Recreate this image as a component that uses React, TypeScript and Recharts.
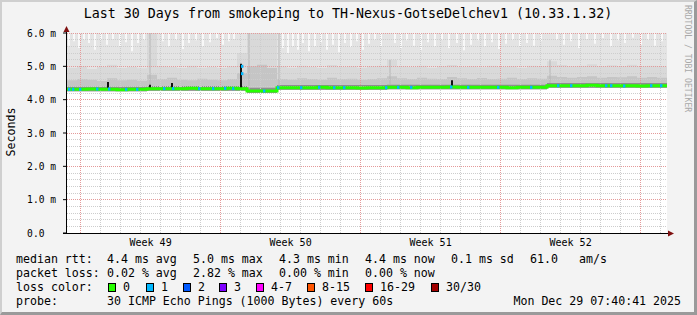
import React from 'react';
import { ComposedChart, Area, Line, XAxis, YAxis, ReferenceLine, ReferenceArea } from 'recharts';

const MONO = "'DejaVu Sans Mono', monospace";

// time in days since the start of the 30 day window
const days = [
  0, 0.5, 1, 1.5, 2, 2.5, 3, 3.5, 4, 4.5, 5, 5.5, 6, 6.5, 7, 7.5, 8, 8.5, 9, 9.5,
  10, 10.5, 11, 11.5, 12, 12.5, 13, 13.5, 14, 14.5, 15, 15.5, 16, 16.5, 17, 17.5, 18, 18.5, 19, 19.5,
  20, 20.5, 21, 21.5, 22, 22.5, 23, 23.5, 24, 24.5, 25, 25.5, 26, 26.5, 27, 27.5, 28, 28.5, 29, 29.5, 30,
];

// median rtt in ms
const median = [
  4.31, 4.31, 4.32, 4.31, 4.31, 4.30, 4.31, 4.31,
  4.33, 4.33, 4.33, 4.33, 4.34, 4.33, 4.33, 4.33, 4.34, 4.33,
  4.26, 4.26, 4.26,
  4.36, 4.36, 4.36, 4.36, 4.37, 4.36, 4.36, 4.36, 4.35, 4.36, 4.36,
  4.37, 4.37, 4.36, 4.37, 4.37, 4.37, 4.38, 4.37, 4.37, 4.37, 4.37, 4.37, 4.36, 4.37, 4.37, 4.37,
  4.42, 4.42, 4.42, 4.42, 4.43, 4.42, 4.42, 4.42, 4.42, 4.41, 4.42, 4.42, 4.42,
];

// smoke bands (lowest ping and several upper percentiles)
const smokeLow = [
  4.25, 4.25, 4.25, 4.25, 4.25, 4.25, 4.25, 4.25,
  4.27, 4.27, 4.27, 4.27, 4.27, 4.27, 4.27, 4.27, 4.27, 4.27,
  4.20, 4.20, 4.20,
  4.30, 4.30, 4.30, 4.30, 4.30, 4.30, 4.30, 4.30, 4.30, 4.30, 4.30,
  4.31, 4.31, 4.31, 4.31, 4.31, 4.31, 4.31, 4.31, 4.31, 4.31, 4.31, 4.31, 4.31, 4.31, 4.31, 4.31,
  4.36, 4.36, 4.36, 4.36, 4.36, 4.36, 4.36, 4.36, 4.36, 4.36, 4.36, 4.36, 4.36,
];
const smokeCore = [
  4.39, 4.39, 4.39, 4.39, 4.39, 4.39, 4.39, 4.39,
  4.41, 4.41, 4.41, 4.41, 4.41, 4.41, 4.41, 4.41, 4.41, 4.41,
  4.36, 4.36, 4.36,
  4.44, 4.44, 4.44, 4.44, 4.44, 4.44, 4.44, 4.44, 4.44, 4.44, 4.44,
  4.45, 4.45, 4.45, 4.45, 4.45, 4.45, 4.45, 4.45, 4.45, 4.45, 4.45, 4.45, 4.45, 4.45, 4.45, 4.45,
  4.50, 4.50, 4.50, 4.50, 4.50, 4.50, 4.50, 4.50, 4.50, 4.50, 4.50, 4.50, 4.50,
];
const smokeInner = [
  4.58, 4.62, 4.60, 4.56, 4.64, 4.58, 4.60, 4.57,
  4.75, 4.62, 4.66, 4.60, 4.58, 4.63, 4.60, 4.58, 4.62, 4.80,
  5.00, 5.05, 4.95,
  4.62, 4.60, 4.64, 4.62, 4.60, 4.66, 4.62, 4.63, 4.60, 4.62, 4.64,
  4.70, 4.64, 4.62, 4.66, 4.63, 4.62, 4.68, 4.64, 4.62, 4.65, 4.62, 4.63, 4.66, 4.62, 4.64, 4.63,
  4.72, 4.68, 4.66, 4.68, 4.70, 4.66, 4.68, 4.67, 4.70, 4.66, 4.68, 4.66, 4.66,
];
const smokeMid = [
  4.95, 5.00, 4.92, 4.98, 5.05, 4.95, 4.98, 4.94,
  6.20, 5.00, 4.98, 4.95, 5.02, 4.96, 4.98, 4.95, 5.00, 5.40,
  6.20, 6.20, 6.20,
  5.00, 4.96, 5.02, 4.98, 4.95, 5.04, 4.98, 5.00, 4.96, 5.00, 5.02,
  5.20, 5.00, 4.98, 5.02, 4.96, 5.00, 5.04, 4.98, 5.00, 4.97, 5.02, 4.98, 5.00, 4.96, 5.02, 5.00,
  5.15, 5.04, 5.00, 5.02, 5.06, 5.00, 5.03, 5.00, 5.05, 5.00, 5.02, 5.00, 5.00,
];
const smokeTop = days.map(() => 6.2);

// places where the highest ping stayed under the top of the graph: [day, max ms]
const smokeGaps: [number, number][] = [
  [0.1, 5.62], [0.35, 5.75], [0.6, 5.55], [0.85, 5.8], [1.1, 5.7], [1.4, 5.5], [1.7, 5.78], [2.0, 5.65],
  [2.3, 5.82], [2.65, 5.6], [2.95, 5.72], [3.25, 5.45], [3.55, 5.7], [3.85, 5.8],
  [4.8, 5.75], [5.1, 5.6], [5.45, 5.8], [5.8, 5.52], [6.1, 5.7], [6.45, 5.78], [6.8, 5.6], [7.15, 5.72],
  [7.5, 5.85], [7.8, 5.65], [8.1, 5.75], [8.35, 5.82],
  [10.8, 5.55], [11.05, 5.4], [11.3, 5.6], [11.55, 5.5], [11.8, 5.7], [12.1, 5.45], [12.4, 5.6], [12.7, 5.72],
  [13.0, 5.5], [13.3, 5.65], [13.6, 5.42], [13.9, 5.7], [14.2, 5.58], [14.5, 5.75], [14.8, 5.5], [15.1, 5.68],
  [15.4, 5.8], [15.7, 5.6],
  [16.4, 5.7], [16.7, 5.55], [17.0, 5.78], [17.35, 5.62], [17.7, 5.5], [18.05, 5.72], [18.4, 5.6], [18.75, 5.8],
  [19.1, 5.55], [19.5, 5.7], [19.85, 5.48], [20.2, 5.65], [20.55, 5.78], [20.9, 5.6], [21.25, 5.72], [21.6, 5.52],
  [21.95, 5.68], [22.3, 5.8], [22.65, 5.58], [23.0, 5.7], [23.35, 5.62], [23.7, 5.76],
  [24.5, 5.8], [24.85, 5.65], [25.2, 5.75], [25.6, 5.55], [26.0, 5.82], [26.4, 5.68], [26.8, 5.85], [27.2, 5.6],
  [27.55, 5.78], [27.9, 5.7], [28.3, 5.86], [28.7, 5.65], [29.05, 5.8], [29.4, 5.62], [29.75, 5.75],
];

// darker smoke streaks: [day, from, to]
const smokeStreaks: [number, number, number][] = [
  [4.15, 4.4, 6.0], [9.1, 4.3, 6.0], [10.6, 4.4, 6.0], [16.15, 4.45, 5.2], [24.15, 4.5, 5.2],
];

// short rtt peaks: [day, from, to]
const spikes: [number, number, number][] = [
  [2.05, 4.31, 4.53], [4.15, 4.33, 4.45], [5.25, 4.33, 4.5], [8.7, 4.33, 5.08], [19.25, 4.37, 4.58],
];

// samples with 1 lost ping: [day, median]
const loss1: [number, number][] = [
  [0.05, 4.31], [0.25, 4.31], [0.6, 4.31], [1.45, 4.32], [2.05, 4.32], [2.9, 4.31], [3.45, 4.31],
  [4.8, 4.33], [5.25, 4.33], [6.55, 4.33], [7.25, 4.33], [7.85, 4.34], [8.25, 4.33], [9.8, 4.26],
  [10.5, 4.36], [11.65, 4.36], [12.55, 4.37], [13.3, 4.36], [13.8, 4.36], [15.9, 4.36], [16.5, 4.37],
  [17.15, 4.37], [19.15, 4.38], [20.0, 4.37], [21.5, 4.37], [23.15, 4.37], [24.5, 4.42], [25.15, 4.42],
  [26.9, 4.42], [27.15, 4.42], [27.8, 4.41], [29.15, 4.42], [29.65, 4.42],
  [8.7, 4.78], [8.7, 5.0],
];

const yTicks = [0, 1, 2, 3, 4, 5, 6];
const yLabels = ['0.0\u00a0\u00a0', '1.0 m', '2.0 m', '3.0 m', '4.0 m', '5.0 m', '6.0 m'];
const yMinor = [
  0.2, 0.4, 0.6, 0.8, 1.2, 1.4, 1.6, 1.8, 2.2, 2.4, 2.6, 2.8, 3.2, 3.4, 3.6, 3.8,
  4.2, 4.4, 4.6, 4.8, 5.2, 5.4, 5.6, 5.8,
];
const yMajor = [1, 2, 3, 4, 5, 6];

// midnights and week starts (days from window start)
const dayLines = [
  1.68, 2.68, 3.68, 4.68, 5.68, 6.68, 8.68, 9.68, 10.68, 11.68, 12.68, 13.68,
  15.68, 16.68, 17.68, 18.68, 19.68, 20.68, 22.68, 23.68, 24.68, 25.68, 26.68, 27.68, 29.68,
];
const weekLines = [0.68, 7.68, 14.68, 21.68, 28.68];
const weekTicks = [4.18, 11.18, 18.18, 25.18];
const weekLabels = ['Week 49', 'Week 50', 'Week 51', 'Week 52'];

const title = 'Last 30 Days from smokeping to TH-Nexus-GotseDelchev1 (10.33.1.32)';
const rttStats = ['4.4 ms avg', '5.0 ms max', '4.3 ms min', '4.4 ms now', '0.1 ms sd', '61.0', 'am/s'];
const lossStats = ['0.02 % avg', '2.82 % max', '0.00 % min', '0.00 % now'];
const lossLabels = ['0', '1', '2', '3', '4-7', '8-15', '16-29', '30/30'];
const lossColors = ['#26ff00', '#00b8ff', '#0059ff', '#7e00ff', '#ff00ff', '#ff5500', '#ff0000', '#a10000'];
const probeText = '30 ICMP Echo Pings (1000 Bytes) every 60s';
const stamp = 'Mon Dec 29 07:40:41 2025';

// legend layout (px)
const statX = [107, 193, 279, 365, 451, 530, 579];
const lossBoxX = [108, 146, 183, 219, 256, 307, 365, 431];

const chartData = days.map((day, i) => ({
  day,
  light: [smokeLow[i], smokeTop[i]],
  mid: [smokeLow[i], smokeMid[i]],
  inner: [smokeLow[i], smokeInner[i]],
  core: [smokeLow[i], smokeCore[i]],
  median: median[i],
}));

const YTick = (props: any) => {
  const { x, y, payload } = props;
  const idx = yTicks.indexOf(payload.value);
  return (
    <text x={x} y={y + 3.5} textAnchor="end" fontFamily={MONO} fontSize={9.6} fill="#000">
      {yLabels[idx]}
    </text>
  );
};

const WeekTick = (props: any) => {
  const { x, y, payload } = props;
  const idx = weekTicks.indexOf(payload.value);
  return (
    <text x={x} y={y + 13} textAnchor="middle" fontFamily={MONO} fontSize={10} fill="#000">
      {weekLabels[idx]}
    </text>
  );
};

const gridMinor = '#cdcdcd';
const gridMajor = '#e49a9a';

const App: React.FC = () => {
  const legendFont = { fontFamily: MONO, fontSize: 11.6, fill: '#000' };
  return (
    <div style={{ position: 'absolute', left: 0, top: 0, width: 697, height: 315, background: '#f3f3f3' }}>
      <ComposedChart
        width={697}
        height={315}
        data={chartData}
        margin={{ top: 33, right: 30, bottom: 62, left: 0 }}
      >
        <XAxis
          type="number"
          dataKey="day"
          domain={[0, 30]}
          ticks={weekTicks}
          interval={0}
          tick={<WeekTick />}
          tickLine={false}
          tickSize={0}
          tickMargin={0}
          axisLine={false}
          height={20}
          allowDataOverflow
        />
        <YAxis
          type="number"
          domain={[0, 6]}
          ticks={yTicks}
          interval={0}
          width={67}
          tick={<YTick />}
          tickSize={4}
          tickMargin={7}
          tickLine={{ stroke: '#000' }}
          axisLine={false}
          allowDataOverflow
        />
        <ReferenceArea x1={0} x2={30} y1={0} y2={6} fill="#ffffff" fillOpacity={1} stroke="none" />
        <Area dataKey="light" type="stepAfter" fill="#e4e4e4" fillOpacity={1} stroke="none" isAnimationActive={false} />
        <Area dataKey="mid" type="stepAfter" fill="#d9d9d9" fillOpacity={1} stroke="none" isAnimationActive={false} />
        <Area dataKey="inner" type="stepAfter" fill="#c5c5c5" fillOpacity={1} stroke="none" isAnimationActive={false} />
        <Area dataKey="core" type="stepAfter" fill="#8e8e8e" fillOpacity={1} stroke="none" isAnimationActive={false} />
        {smokeGaps.map(([d, v], i) => (
          <ReferenceLine
            key={`gap${i}`}
            segment={[{ x: d, y: v }, { x: d, y: 6 }]}
            stroke="#ffffff"
            strokeWidth={1.5}
          />
        ))}
        {smokeStreaks.map(([d, a, b], i) => (
          <ReferenceLine
            key={`str${i}`}
            segment={[{ x: d, y: a }, { x: d, y: b }]}
            stroke="#b5b5b5"
            strokeWidth={1}
          />
        ))}
        {yMinor.map((v) => (
          <ReferenceLine key={`ym${v}`} y={v} stroke={gridMinor} strokeDasharray="1 1" shapeRendering="crispEdges" />
        ))}
        {dayLines.map((v) => (
          <ReferenceLine key={`xm${v}`} x={v} stroke={gridMinor} strokeDasharray="1 1" shapeRendering="crispEdges" />
        ))}
        {yMajor.map((v) => (
          <ReferenceLine key={`yM${v}`} y={v} stroke={gridMajor} strokeDasharray="1 1" shapeRendering="crispEdges" />
        ))}
        {weekLines.map((v) => (
          <ReferenceLine key={`xM${v}`} x={v} stroke={gridMajor} strokeDasharray="1 1" shapeRendering="crispEdges" />
        ))}
        {spikes.map(([d, a, b], i) => (
          <ReferenceLine
            key={`sp${i}`}
            segment={[{ x: d, y: a }, { x: d, y: b }]}
            stroke="#111111"
            strokeWidth={2}
          />
        ))}
        <Line
          dataKey="median"
          type="stepAfter"
          stroke="#26ff00"
          strokeWidth={3}
          dot={false}
          isAnimationActive={false}
        />
        {loss1.map(([d, v], i) => (
          <ReferenceLine
            key={`l1${i}`}
            segment={[{ x: d, y: v }, { x: d + 0.12, y: v }]}
            stroke="#00b8ff"
            strokeWidth={3}
          />
        ))}
      </ComposedChart>

      <svg
        width={697}
        height={315}
        style={{ position: 'absolute', left: 0, top: 0, pointerEvents: 'none' }}
      >
        {/* axes with arrows */}
        <line x1={66.5} y1={234} x2={66.5} y2={30} stroke="#000" strokeWidth={1} />
        <line x1={63} y1={233.5} x2={670} y2={233.5} stroke="#000" strokeWidth={1} />
        <polygon points="63.5,32 69.5,32 66.5,26" fill="#7f1010" />
        <polygon points="668,230.5 668,236.5 674,233.5" fill="#7f1010" />

        <text x={348} y={18} textAnchor="middle" fontFamily={MONO} fontSize={13.3} fill="#000">
          {title}
        </text>
        <text
          x={15}
          y={132}
          textAnchor="middle"
          transform="rotate(-90 15 132)"
          fontFamily={MONO}
          fontSize={11.6}
          fill="#000"
        >
          Seconds
        </text>
        <text
          x={685}
          y={5}
          transform="rotate(90 685 5)"
          fontFamily={MONO}
          fontSize={8.1}
          fill="#a8a8a8"
        >
          RRDTOOL / TOBI OETIKER
        </text>

        <text x={16} y={263} {...legendFont}>median rtt:</text>
        {rttStats.map((s, i) => (
          <text key={`r${i}`} x={statX[i]} y={263} {...legendFont}>{s}</text>
        ))}
        <text x={16} y={277} {...legendFont}>packet loss:</text>
        {lossStats.map((s, i) => (
          <text key={`p${i}`} x={statX[i]} y={277} {...legendFont}>{s}</text>
        ))}
        <text x={16} y={291} {...legendFont}>loss color:</text>
        {lossLabels.map((s, i) => (
          <g key={`c${i}`}>
            <rect x={lossBoxX[i] + 0.5} y={283.5} width={7} height={8} fill={lossColors[i]} stroke="#000" />
            <text x={lossBoxX[i] + 15} y={291} {...legendFont}>{s}</text>
          </g>
        ))}
        <text x={16} y={305} {...legendFont}>probe:</text>
        <text x={107} y={305} {...legendFont}>{probeText}</text>
        <text x={681} y={305} textAnchor="end" {...legendFont}>{stamp}</text>
      </svg>

      <div
        style={{
          position: 'absolute',
          inset: 0,
          boxSizing: 'border-box',
          borderTop: '2px solid #cfcfcf',
          borderLeft: '2px solid #cfcfcf',
          borderRight: '3px solid #9a9a9a',
          borderBottom: '3px solid #9a9a9a',
          pointerEvents: 'none',
        }}
      />
    </div>
  );
};

export default App;
